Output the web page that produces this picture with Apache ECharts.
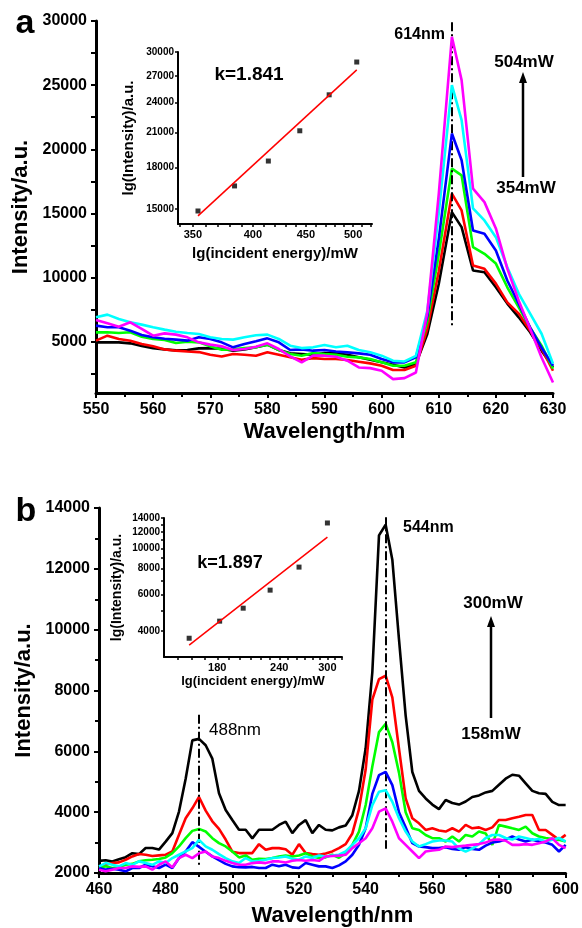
<!DOCTYPE html>
<html>
<head>
<meta charset="utf-8">
<script src="https://cdn.jsdelivr.net/npm/echarts@6/dist/echarts.min.js"></script>
<style>
html, body { margin: 0; padding: 0; background: #fff; }
#main { width: 582px; height: 928px; }
</style>
</head>
<body>
<div id="main"></div>
<script>
// panel a: spectra at 354..504 mW
const wlA = [550, 552, 554, 556, 558, 560, 562, 564, 566, 568, 570, 572, 574, 576, 578, 580, 582, 584, 586, 588,
    590, 592, 594, 596, 598, 600, 602, 604, 606, 608, 610, 612.3, 614, 616, 618, 620, 622, 624, 626, 628, 630];
const a354 = [4950, 4950, 4950, 4870, 4660, 4500, 4400, 4320, 4350, 4480, 4500, 4450, 4300, 4400, 4560, 4770, 4350, 4090, 4040, 3980,
    4110, 4090, 3980, 3780, 3590, 3390, 3200, 2990, 3260, 5600, 9500, 15100, 13930, 10550, 10410, 9240, 7970, 6900, 5730, 4300, 3000];
const a384 = [5080, 5470, 5210, 5080, 4820, 4640, 4400, 4300, 4240, 4190, 3980, 3850, 4040, 3980, 3910, 4170, 3980, 3780, 3590, 3720,
    3650, 3650, 3570, 3440, 3310, 3130, 2790, 2790, 3130, 6000, 10500, 16540, 15230, 10940, 10680, 9530, 8070, 7190, 5860, 4450, 2735];
const a414 = [5730, 5730, 5680, 5730, 5390, 5210, 5130, 4900, 5000, 4950, 4640, 4380, 4400, 4500, 4560, 4770, 4350, 4040, 3910, 4110,
    4040, 3980, 3830, 3780, 3650, 3390, 3130, 3130, 3390, 6600, 11800, 18490, 17970, 12370, 11850, 11090, 9240, 7680, 6100, 4690, 2890];
const a444 = [6250, 6120, 6120, 5860, 5520, 5340, 5230, 5160, 5080, 5340, 5210, 4950, 4560, 4820, 5030, 5260, 4950, 4350, 4400, 4300,
    4350, 4240, 4170, 4090, 3980, 3650, 3390, 3390, 3780, 7000, 13000, 21225, 19140, 13670, 13410, 12110, 9770, 7970, 6100, 4530, 3125];
const a474 = [6900, 7110, 6770, 6510, 6330, 6120, 5940, 5780, 5680, 5600, 5340, 5210, 5160, 5340, 5500, 5550, 5210, 4690, 4500, 4560,
    4740, 4560, 4690, 4350, 4170, 3910, 3520, 3460, 3900, 7400, 15000, 25000, 22270, 15390, 14450, 13150, 10800, 8750, 7190, 5620, 3280];
const a504 = [6690, 6430, 6170, 6510, 5990, 5470, 5650, 5550, 5340, 4950, 4770, 4640, 4350, 4430, 4610, 4870, 4430, 3850, 3390, 3910,
    3910, 3830, 3520, 2990, 2940, 2730, 2080, 2160, 2600, 7300, 16500, 28770, 25390, 16930, 15880, 13830, 10700, 8200, 6000, 3770, 1820];
const yLabelsA = [5000, 10000, 15000, 20000, 25000, 30000];
const yTicksA = [2500, 5000, 7500, 10000, 12500, 15000, 17500, 20000, 22500, 25000, 27500, 30000];
const peakLineA = [612.3, 29900, 6100];

// panel a inset (log-log)
const powerA = [354, 384, 414, 444, 474, 504];
const peakA = [14860, 16600, 18530, 21180, 24830, 28700];
const fitPowerA = [354, 504];
const fitPeakA = [14540, 27720];
const insetXLabelsA = [350, 400, 450, 500];
const insetXTicksA = [340, 350, 360, 370, 380, 390, 400, 410, 420, 430, 440, 450, 460, 470, 480, 490, 500, 510, 520];
const insetYLabelsA = [15000, 18000, 21000, 24000, 27000, 30000];

// panel b: spectra at 158..300 mW
const wlB = [460, 462, 464, 466, 468, 470, 472, 474, 476, 478, 480, 482, 484, 486, 488, 490, 492, 494, 496, 498,
    500, 502, 504, 506, 508, 510, 512, 514, 516, 518, 520, 522, 524, 526, 528, 530, 532, 534, 536, 538,
    540, 542, 544, 546, 548, 550, 552, 554, 556, 558, 560, 562, 564, 566, 568, 570, 572, 574, 576, 578,
    580, 582, 584, 586, 588, 590, 592, 594, 596, 598, 600];
const b300 = [2400, 2420, 2380, 2450, 2520, 2650, 2620, 2820, 2820, 2770, 3030, 3310, 4020, 5100, 6360, 6410, 6200, 5760, 4620, 4070,
    3740, 3420, 3420, 3140, 3420, 3420, 3420, 3580, 3690, 3310, 3580, 3740, 3310, 3580, 3420, 3400, 3500, 3560, 3900, 4700,
    6100, 8600, 13100, 13450, 12300, 9680, 7175, 5320, 4700, 4450, 4250, 4100, 4400, 4300, 4250, 4350, 4500, 4550, 4650, 4700,
    4900, 5100, 5230, 5200, 4950, 4700, 4620, 4600, 4340, 4234, 4234];
const b263 = [2164, 2273, 2327, 2350, 2436, 2545, 2622, 2600, 2560, 2580, 2600, 2709, 3254, 3800, 4126, 4500, 4050, 3700, 3450, 3100,
    2700, 2655, 2655, 2655, 2949, 2763, 2818, 2818, 2780, 2600, 2949, 2655, 2620, 2600, 2640, 2709, 2817, 2950, 3300, 4100,
    5400, 7700, 8376, 8485, 7776, 6086, 4451, 3800, 3634, 3416, 3470, 3400, 3362, 3470, 3362, 3580, 3470, 3500, 3416, 3500,
    3743, 3743, 3800, 3850, 3907, 3907, 3416, 3416, 3253, 3090, 3253];
const b230 = [2164, 2220, 2164, 2200, 2273, 2300, 2382, 2420, 2436, 2460, 2513, 2655, 2873, 3145, 3385, 3450, 3363, 3145, 2981, 2873,
    2709, 2513, 2578, 2436, 2470, 2460, 2491, 2540, 2578, 2545, 2578, 2650, 2545, 2491, 2513, 2600, 2500, 2650, 2926, 3362,
    4234, 5500, 6632, 6905, 6300, 5300, 4000, 3470, 3416, 3250, 3144, 3144, 3035, 3199, 3035, 3253, 3199, 3362, 3300, 2926,
    3580, 3525, 3470, 3416, 3525, 3307, 3199, 3150, 3120, 3090, 3035];
const b203 = [2164, 2110, 2140, 2110, 2055, 2164, 2164, 2273, 2220, 2164, 2273, 2164, 2491, 2709, 3014, 2860, 2700, 2545, 2420, 2300,
    2218, 2190, 2186, 2200, 2164, 2164, 2273, 2220, 2273, 2186, 2164, 2327, 2273, 2218, 2218, 2164, 2250, 2380, 2600, 2926,
    3470, 4600, 5215, 5324, 4888, 4000, 3500, 2980, 2871, 2850, 2817, 2817, 2850, 2790, 2762, 2850, 2790, 2762, 2900, 3000,
    3035, 3100, 3199, 3100, 3035, 3090, 3035, 3000, 2926, 2708, 2926];
const b182 = [2218, 2327, 2270, 2218, 2327, 2270, 2382, 2327, 2270, 2382, 2327, 2491, 2600, 2709, 2818, 3090, 2873, 2764, 2622, 2491,
    2382, 2327, 2491, 2382, 2400, 2436, 2491, 2510, 2545, 2470, 2436, 2545, 2491, 2578, 2545, 2578, 2600, 2708, 2926, 3144,
    3470, 4234, 4670, 4724, 4343, 3800, 3362, 3035, 2871, 2950, 3035, 3070, 3070, 3035, 2800, 2708, 2800, 2950, 3150, 3250,
    3250, 3150, 3100, 3199, 3150, 3090, 3120, 3035, 3090, 3150, 3035];
const b158 = [2109, 2055, 2110, 2164, 2164, 2218, 2200, 2218, 2109, 2272, 2381, 2185, 2490, 2599, 2490, 2650, 2708, 2544, 2490, 2400,
    2326, 2272, 2272, 2326, 2350, 2326, 2381, 2381, 2345, 2400, 2430, 2400, 2430, 2400, 2544, 2560, 2570, 2598, 2817, 2980,
    3144, 3470, 4016, 4125, 3688, 3144, 2926, 2708, 2490, 2708, 2740, 2762, 2871, 2850, 2880, 2900, 2926, 2950, 3000, 3090,
    3100, 3060, 2926, 2926, 2950, 2926, 2980, 3035, 3144, 2926, 2817];
const peakLinesB = [[489.8, 7200, 2250], [546, 13700, 2800]];

// panel b inset (log-log)
const powerB = [158, 182, 203, 230, 263, 300];
const peakB = [3700, 4470, 5160, 6300, 8130, 13250];
const fitPowerB = [158, 300];
const fitPeakB = [3425, 11330];
const insetXLabelsB = [180, 240, 300];
const insetXTicksB = [150, 160, 170, 180, 190, 200, 210, 220, 230, 240, 250, 260, 270, 280, 290, 300, 310, 320];
const insetYLabelsB = [4000, 6000, 8000, 10000, 12000, 14000];
const insetYTicksB = [4000, 5000, 6000, 7000, 8000, 9000, 10000, 11000, 12000, 13000, 14000];

const colors = ['#000000', '#ff0000', '#00ff00', '#0000ff', '#00ffff', '#ff00ff'];
const FONT = '"Liberation Sans", Arial, sans-serif';
const lg = v => Math.log10(v);
const unLg = v => String(Math.round(Math.pow(10, v)));
const plain = v => String(v);

function mainAxisStyle() {
    return {
        axisLine: { show: true, onZero: false, lineStyle: { color: '#000', width: 3 } },
        axisTick: { show: true, length: 5, lineStyle: { color: '#000', width: 2 } },
        splitLine: { show: false },
        nameTextStyle: { color: '#000', fontWeight: 'bold', fontSize: 22, fontFamily: FONT }
    };
}

function insetAxis(o) {
    return Object.assign({
        type: 'value',
        axisLine: { show: true, onZero: false, lineStyle: { color: '#000', width: 2 } },
        splitLine: { show: false },
        nameLocation: 'middle',
        nameTextStyle: { color: '#000', fontWeight: 'bold', fontSize: 15, fontFamily: FONT }
    }, o);
}

function lineSeries(x, ys, xi, yi) {
    return ys.map((arr, i) => ({
        type: 'line',
        xAxisIndex: xi,
        yAxisIndex: yi,
        data: x.map((w, j) => [w, arr[j]]),
        showSymbol: false,
        lineStyle: { color: colors[i], width: 2.6 },
        itemStyle: { color: colors[i] },
        z: 2 + i
    }));
}

function dashLine(x, y1, y2) {
    return [{ coord: [x, y1] }, { coord: [x, y2] }];
}

const seriesA = lineSeries(wlA, [a354, a384, a414, a444, a474, a504], 0, 0);
seriesA[0].markLine = {
    silent: true, symbol: 'none', label: { show: false },
    lineStyle: { color: '#000', width: 2, type: [9, 3, 2, 3] },
    data: [dashLine(peakLineA[0], peakLineA[1], peakLineA[2])]
};
const seriesB = lineSeries(wlB, [b300, b263, b230, b203, b182, b158], 2, 2);
seriesB[0].markLine = {
    silent: true, symbol: 'none', label: { show: false },
    lineStyle: { color: '#000', width: 2, type: [9, 3, 2, 3] },
    data: peakLinesB.map(p => dashLine(p[0], p[1], p[2]))
};

const myEcharts = echarts.init(document.getElementById('main'), null, { renderer: 'canvas' });
const option = {
    animation: false,
    textStyle: { fontFamily: FONT },
    grid: [
        { left: 96, top: 21, width: 457, height: 372 },
        { left: 178, top: 52, width: 194, height: 172 },
        { left: 99, top: 508, width: 471, height: 367 },
        { left: 164, top: 518, width: 178, height: 139 }
    ],
    xAxis: [
        Object.assign(mainAxisStyle(), {
            gridIndex: 0, type: 'value', min: 550, max: 630, interval: 10,
            minorTick: { show: true, splitNumber: 2, length: 4, lineStyle: { color: '#000', width: 2 } },
            axisLabel: { formatter: plain, color: '#000', fontWeight: 'bold', fontSize: 16, margin: 9 },
            name: 'Wavelength/nm', nameLocation: 'middle', nameGap: 28
        }),
        insetAxis({
            gridIndex: 1, min: lg(338.6), max: lg(521.4),
            axisTick: { show: true, customValues: insetXTicksA.map(lg), length: 3, lineStyle: { color: '#000', width: 1.5 } },
            axisLabel: { customValues: insetXLabelsA.map(lg), formatter: unLg, color: '#000', fontWeight: 'bold', fontSize: 11, margin: 5 },
            name: 'lg(incident energy)/mW', nameGap: 22
        }),
        Object.assign(mainAxisStyle(), {
            gridIndex: 2, type: 'value', min: 460, max: 600, interval: 20,
            minorTick: { show: true, splitNumber: 2, length: 4, lineStyle: { color: '#000', width: 2 } },
            axisLabel: { formatter: plain, color: '#000', fontWeight: 'bold', fontSize: 16, margin: 9 },
            name: 'Wavelength/nm', nameLocation: 'middle', nameGap: 32
        }),
        insetAxis({
            gridIndex: 3, min: lg(140.6), max: lg(321),
            axisTick: { show: true, customValues: insetXTicksB.map(lg), length: 3, lineStyle: { color: '#000', width: 1.5 } },
            axisLabel: { customValues: insetXLabelsB.map(lg), formatter: unLg, color: '#000', fontWeight: 'bold', fontSize: 11, margin: 5 },
            name: 'lg(incident energy)/mW', nameGap: 18,
            nameTextStyle: { color: '#000', fontWeight: 'bold', fontSize: 13, fontFamily: FONT }
        })
    ],
    yAxis: [
        Object.assign(mainAxisStyle(), {
            gridIndex: 0, type: 'value', min: 1000, max: 30000,
            axisTick: { show: true, customValues: yTicksA, length: 5, lineStyle: { color: '#000', width: 2 } },
            axisLabel: { customValues: yLabelsA, formatter: plain, color: '#000', fontWeight: 'bold', fontSize: 16, margin: 9 },
            name: 'Intensity/a.u.', nameLocation: 'middle', nameGap: 60
        }),
        insetAxis({
            gridIndex: 1, min: lg(14030), max: lg(30000),
            axisTick: { show: true, customValues: insetYLabelsA.map(lg), length: 3, lineStyle: { color: '#000', width: 1.5 } },
            axisLabel: { customValues: insetYLabelsA.map(lg), formatter: unLg, color: '#000', fontWeight: 'bold', fontSize: 10, margin: 4 },
            name: 'lg(Intensity)/a.u.', nameGap: 42
        }),
        Object.assign(mainAxisStyle(), {
            gridIndex: 2, type: 'value', min: 2000, max: 14000, interval: 2000,
            minorTick: { show: true, splitNumber: 2, length: 4, lineStyle: { color: '#000', width: 2 } },
            axisLabel: { formatter: plain, color: '#000', fontWeight: 'bold', fontSize: 16, margin: 9 },
            name: 'Intensity/a.u.', nameLocation: 'middle', nameGap: 62
        }),
        insetAxis({
            gridIndex: 3, min: lg(3006), max: lg(14000),
            axisTick: { show: true, customValues: insetYTicksB.map(lg), length: 3, lineStyle: { color: '#000', width: 1.5 } },
            axisLabel: { customValues: insetYLabelsB.map(lg), formatter: unLg, color: '#000', fontWeight: 'bold', fontSize: 10, margin: 4 },
            name: 'lg(Intensity)/a.u.', nameGap: 40,
            nameTextStyle: { color: '#000', fontWeight: 'bold', fontSize: 14, fontFamily: FONT }
        })
    ],
    series: seriesA.concat(seriesB).concat([
        {
            type: 'scatter', xAxisIndex: 1, yAxisIndex: 1, symbol: 'rect', symbolSize: 5,
            itemStyle: { color: '#000' },
            data: powerA.map((p, i) => [lg(p), lg(peakA[i])])
        },
        {
            type: 'line', xAxisIndex: 1, yAxisIndex: 1, showSymbol: false,
            lineStyle: { color: '#ff0000', width: 1.5 },
            data: fitPowerA.map((p, i) => [lg(p), lg(fitPeakA[i])])
        },
        {
            type: 'scatter', xAxisIndex: 3, yAxisIndex: 3, symbol: 'rect', symbolSize: 5,
            itemStyle: { color: '#000' },
            data: powerB.map((p, i) => [lg(p), lg(peakB[i])])
        },
        {
            type: 'line', xAxisIndex: 3, yAxisIndex: 3, showSymbol: false,
            lineStyle: { color: '#ff0000', width: 1.5 },
            data: fitPowerB.map((p, i) => [lg(p), lg(fitPeakB[i])])
        }
    ]),
    graphic: [
        { type: 'text', x: 25, y: 24, style: { text: 'a', font: 'bold 34px ' + FONT, fill: '#000', align: 'center', verticalAlign: 'middle' } },
        { type: 'text', x: 26, y: 512, style: { text: 'b', font: 'bold 34px ' + FONT, fill: '#000', align: 'center', verticalAlign: 'middle' } },
        { type: 'text', x: 249, y: 75, style: { text: 'k=1.841', font: 'bold 19px ' + FONT, fill: '#000', align: 'center', verticalAlign: 'middle' } },
        { type: 'text', x: 230, y: 563, style: { text: 'k=1.897', font: 'bold 18px ' + FONT, fill: '#000', align: 'center', verticalAlign: 'middle' } },
        { type: 'text', x: 445, y: 35, style: { text: '614nm', font: 'bold 16px ' + FONT, fill: '#000', align: 'right', verticalAlign: 'middle' } },
        { type: 'text', x: 524, y: 62, style: { text: '504mW', font: 'bold 17px ' + FONT, fill: '#000', align: 'center', verticalAlign: 'middle' } },
        { type: 'text', x: 526, y: 188, style: { text: '354mW', font: 'bold 17px ' + FONT, fill: '#000', align: 'center', verticalAlign: 'middle' } },
        { type: 'line', shape: { x1: 523, y1: 177, x2: 523, y2: 82 }, style: { stroke: '#000', lineWidth: 2.5 } },
        { type: 'polygon', shape: { points: [[523, 72], [519, 83], [527, 83]] }, style: { fill: '#000' } },
        { type: 'text', x: 403, y: 528, style: { text: '544nm', font: 'bold 16px ' + FONT, fill: '#000', align: 'left', verticalAlign: 'middle' } },
        { type: 'text', x: 209, y: 730, style: { text: '488nm', font: '17px ' + FONT, fill: '#000', align: 'left', verticalAlign: 'middle' } },
        { type: 'text', x: 493, y: 603, style: { text: '300mW', font: 'bold 17px ' + FONT, fill: '#000', align: 'center', verticalAlign: 'middle' } },
        { type: 'text', x: 491, y: 734, style: { text: '158mW', font: 'bold 17px ' + FONT, fill: '#000', align: 'center', verticalAlign: 'middle' } },
        { type: 'line', shape: { x1: 491, y1: 718, x2: 491, y2: 626 }, style: { stroke: '#000', lineWidth: 2.5 } },
        { type: 'polygon', shape: { points: [[491, 616], [487, 627], [495, 627]] }, style: { fill: '#000' } }
    ]
};
myEcharts.setOption(option);
</script>
</body>
</html>
